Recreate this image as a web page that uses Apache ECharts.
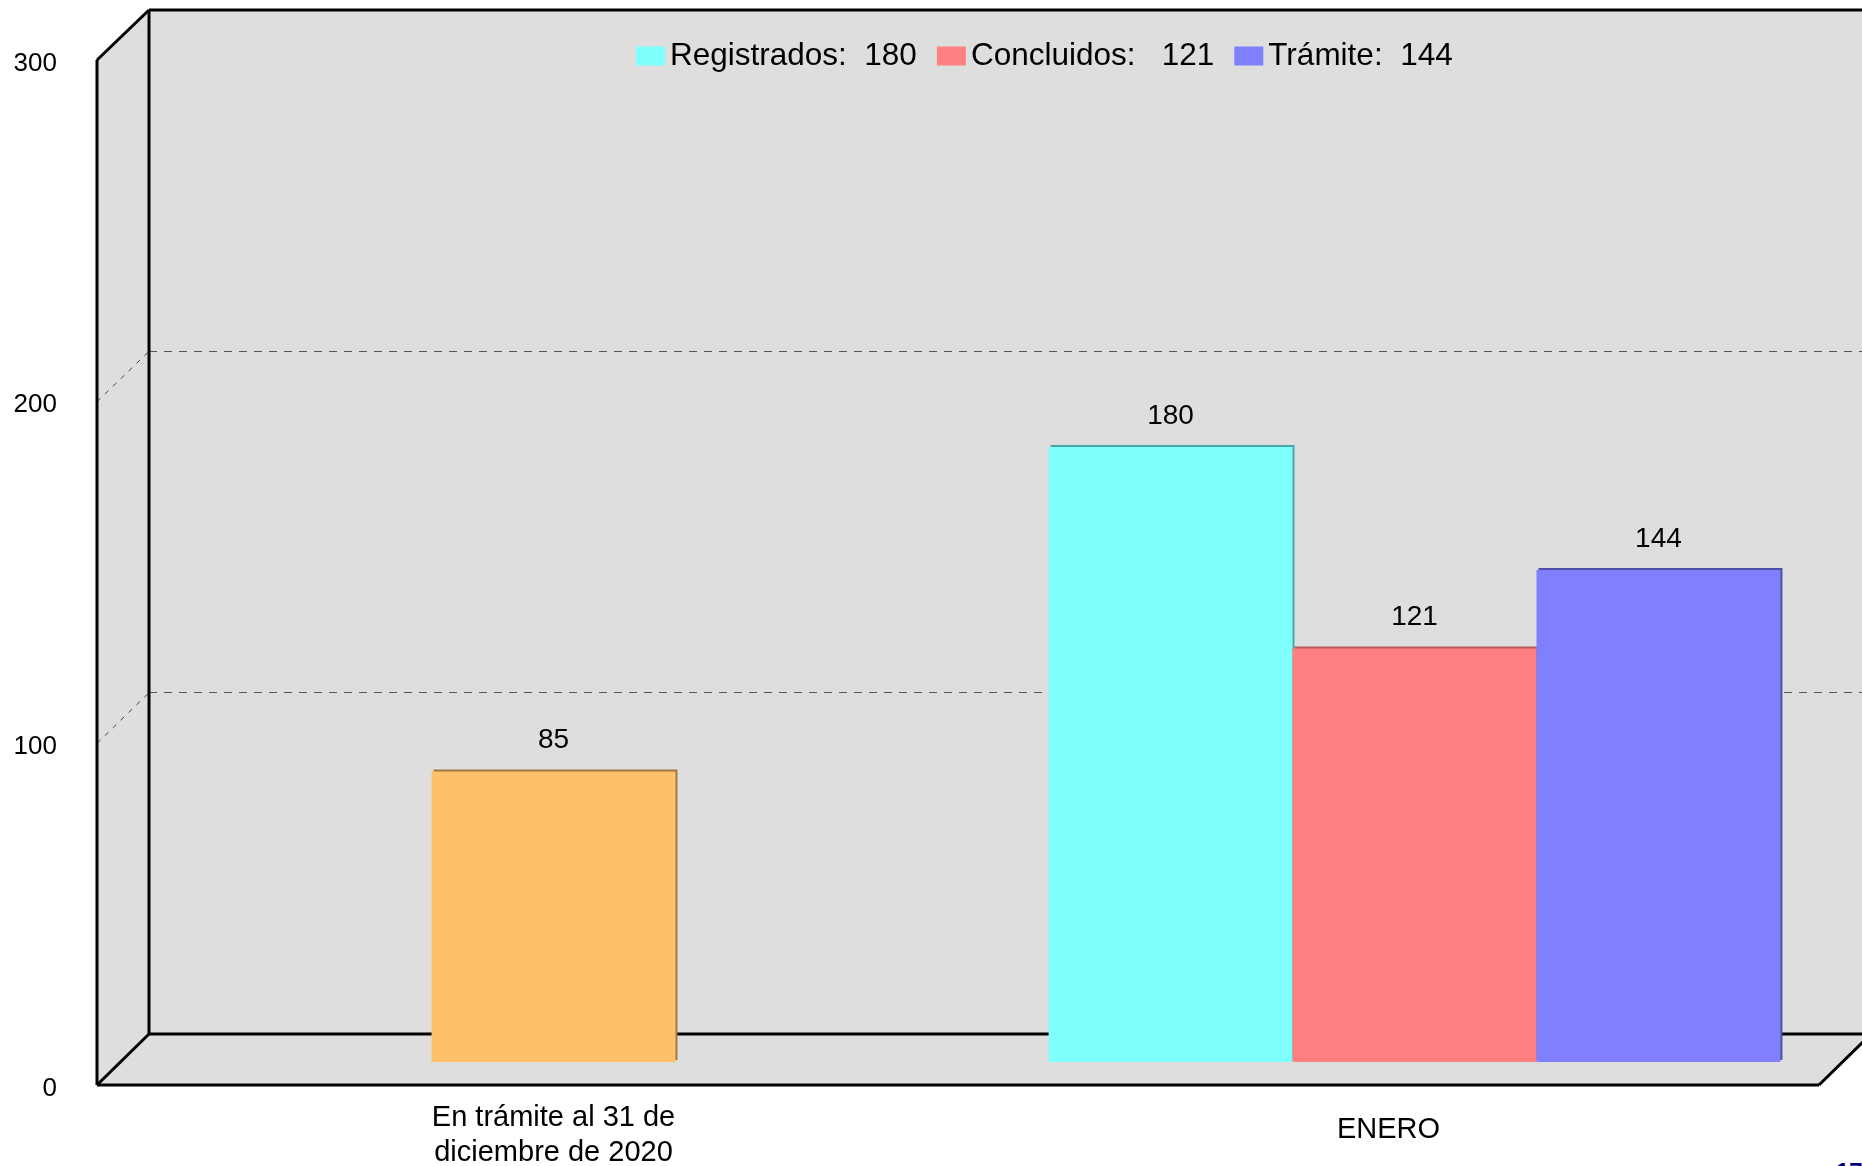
<!DOCTYPE html>
<html><head><meta charset="utf-8">
<script src="https://cdn.jsdelivr.net/npm/echarts@6/dist/echarts.min.js"></script>
<style>html,body{margin:0;padding:0;background:#fff}#c{width:1862px;height:1166px}</style>
</head><body><div id="c"></div>
<script>
// ---- data ----
const categories = ['En trámite al 31 de\ndiciembre de 2020', 'ENERO'];
const pendientesPrevios = [85, null];
const registrados = [null, 180];
const concluidos = [null, 121];
const tramite = [null, 144];
const legendNames = ['Registrados:  180', 'Concluidos:   121', 'Trámite:  144'];
const yTicks = [0, 100, 200, 300];

// ---- layout ----
const FONT = "'Liberation Sans', Arial, sans-serif";
const frontRect = { left: 97, top: 60, width: 1722, height: 1025 };
const backRect = { left: 149, top: 10, width: 1722, height: 1024 };
const midRect = { left: 123, top: 37, width: 1722, height: 1025 };
const WALL = '#dedede';

const chart = echarts.init(document.getElementById('c'), null, { renderer: 'canvas' });

function barStyle(color, edge) {
  return { color: color, shadowColor: edge, shadowOffsetX: 2, shadowOffsetY: -2, shadowBlur: 0 };
}
const lbl = { show: true, position: 'top', distance: 17, fontSize: 28, fontFamily: FONT, color: '#000' };

chart.setOption({
  animation: false,
  backgroundColor: '#ffffff',
  textStyle: { fontFamily: FONT },
  grid: [
    Object.assign({ show: true, backgroundColor: WALL, borderWidth: 0, z: 0, outerBoundsMode: 'none', containLabel: false }, backRect),
    Object.assign({ show: false, outerBoundsMode: 'none', containLabel: false }, midRect),
    Object.assign({ show: false, outerBoundsMode: 'none', containLabel: false }, frontRect)
  ],
  xAxis: [
    { gridIndex: 0, type: 'category', data: categories, show: false },
    { gridIndex: 1, type: 'category', data: categories, show: false },
    { gridIndex: 2, type: 'category',
      data: [
        { value: categories[0], textStyle: { padding: [0, 0, 0, 52] } },
        { value: categories[1], textStyle: { padding: [12, 0, 0, 0] } }
      ],
      axisLine: { show: false }, axisTick: { show: false }, splitLine: { show: false },
      axisLabel: { margin: 15, fontSize: 29, lineHeight: 35, color: '#000', fontFamily: FONT, interval: 0 } }
  ],
  yAxis: [
    { gridIndex: 0, type: 'value', min: 0, max: 300, interval: 100,
      axisLabel: { show: false }, axisLine: { show: false }, axisTick: { show: false },
      splitLine: { show: true, lineStyle: { color: '#555', width: 1, type: [8, 7] } } },
    { gridIndex: 1, type: 'value', min: 0, max: 300, interval: 100, show: false, splitLine: { show: false } },
    { gridIndex: 2, type: 'value', min: 0, max: 300, interval: 100,
      axisLine: { show: false }, axisTick: { show: false }, splitLine: { show: false },
      axisLabel: { margin: 40, color: '#000', fontFamily: FONT, formatter: '{t|{value}}',
        rich: { t: { fontSize: 26, fontFamily: FONT, color: '#000', padding: [7, 0, 0, 0] } } } }
  ],
  legend: {
    data: legendNames, left: 636, top: 40, padding: 0,
    itemWidth: 29, itemHeight: 19, itemGap: 20, icon: 'rect', z: 10,
    textStyle: { fontSize: 31.5, color: '#000', fontFamily: FONT }
  },
  series: [
    { name: legendNames[0], type: 'bar', xAxisIndex: 1, yAxisIndex: 1, data: registrados,
      barGap: '0%', barCategoryGap: '15%', z: 5,
      itemStyle: barStyle('#80ffff', '#48a8a8'), label: lbl },
    { name: 'En trámite al 31 de diciembre de 2020', type: 'bar', stack: 'mid', xAxisIndex: 1, yAxisIndex: 1,
      data: pendientesPrevios, barGap: '0%', barCategoryGap: '15%', z: 5,
      itemStyle: barStyle('#fec06b', '#a07840'), label: lbl },
    { name: legendNames[1], type: 'bar', stack: 'mid', xAxisIndex: 1, yAxisIndex: 1, data: concluidos,
      barGap: '0%', barCategoryGap: '15%', z: 5,
      itemStyle: barStyle('#ff8080', '#b85a5a'), label: lbl },
    { name: legendNames[2], type: 'bar', xAxisIndex: 1, yAxisIndex: 1, data: tramite,
      barGap: '0%', barCategoryGap: '15%', z: 5,
      itemStyle: barStyle('#8080ff', '#4f4fa8'), label: lbl }
  ]
});

// ---- 3D frame built from the axes' own scales ----
const fy = v => chart.convertToPixel({ yAxisIndex: 2 }, v);
const by = v => chart.convertToPixel({ yAxisIndex: 0 }, v);
const fL = frontRect.left, fR = frontRect.left + frontRect.width;
const bL = backRect.left, bR = backRect.left + backRect.width;
const vTop = yTicks[yTicks.length - 1], vBase = yTicks[0];
const black = { stroke: '#000', lineWidth: 3 };
const seg = (x1, y1, x2, y2, style, z) => ({ type: 'line', z: z || 1, silent: true,
  shape: { x1: x1, y1: y1, x2: x2, y2: y2 }, style: style || black });

const g = [
  { type: 'polygon', z: 0, silent: true, shape: { points: [[fL, fy(vTop)], [bL, by(vTop)], [bL, by(vBase)], [fL, fy(vBase)]] }, style: { fill: WALL } },
  { type: 'polygon', z: 0, silent: true, shape: { points: [[fL, fy(vBase)], [bL, by(vBase)], [bR, by(vBase)], [fR, fy(vBase)]] }, style: { fill: WALL } }
];
yTicks.slice(1, -1).forEach(v => {
  g.push(seg(fL, fy(v), bL, by(v), { stroke: '#444', lineWidth: 1, lineDash: [5, 6] }, 1));
});
g.push(seg(fL, fy(vTop), fL, fy(vBase)));
g.push(seg(fL, fy(vTop), bL, by(vTop)));
g.push(seg(bL, by(vTop), bL, by(vBase)));
g.push(seg(bL, by(vTop), bR, by(vTop)));
g.push(seg(bL, by(vBase), bR, by(vBase)));
g.push(seg(fL, fy(vBase), fR, fy(vBase)));
g.push(seg(fL, fy(vBase), bL, by(vBase)));
g.push(seg(fR, fy(vBase), bR, by(vBase)));
g.push({ type: 'text', z: 1, silent: true, x: 1836, y: 1161,
  style: { text: '17', fill: '#000080', font: 'bold 24px ' + FONT } });

chart.setOption({ graphic: g });
</script></body></html>
